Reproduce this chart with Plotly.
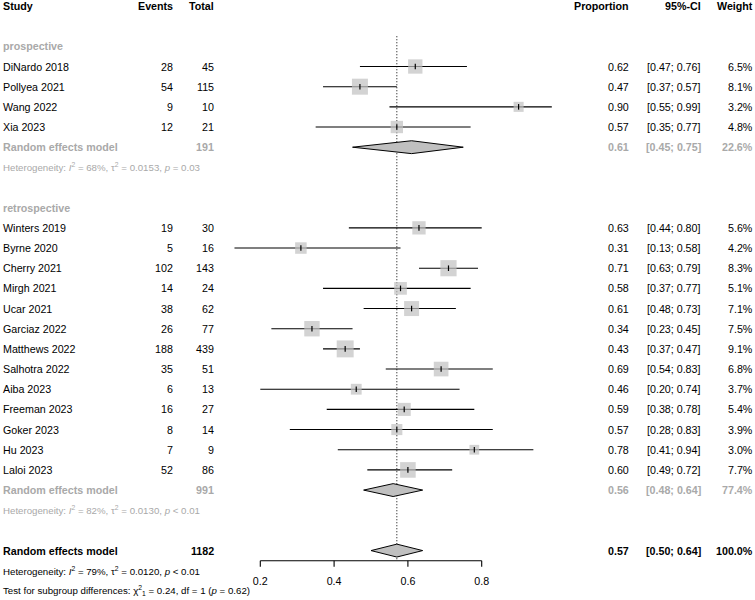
import plotly.graph_objects as go

W, H = 755, 600

# prospective studies
pro_study = ["DiNardo 2018", "Pollyea 2021", "Wang 2022", "Xia 2023"]
pro_events = [28, 54, 9, 12]
pro_total = [45, 115, 10, 21]
pro_prop = [0.62, 0.47, 0.90, 0.57]
pro_lo = [0.47, 0.37, 0.55, 0.35]
pro_hi = [0.76, 0.57, 0.99, 0.77]
pro_weight = [6.5, 8.1, 3.2, 4.8]

# retrospective studies
retro_study = ["Winters 2019", "Byrne 2020", "Cherry 2021", "Mirgh 2021", "Ucar 2021",
               "Garciaz 2022", "Matthews 2022", "Salhotra 2022", "Aiba 2023",
               "Freeman 2023", "Goker 2023", "Hu 2023", "Laloi 2023"]
retro_events = [19, 5, 102, 14, 38, 26, 188, 35, 6, 16, 8, 7, 52]
retro_total = [30, 16, 143, 24, 62, 77, 439, 51, 13, 27, 14, 9, 86]
retro_prop = [0.63, 0.31, 0.71, 0.58, 0.61, 0.34, 0.43, 0.69, 0.46, 0.59, 0.57, 0.78, 0.60]
retro_lo = [0.44, 0.13, 0.63, 0.37, 0.48, 0.23, 0.37, 0.54, 0.20, 0.38, 0.28, 0.41, 0.49]
retro_hi = [0.80, 0.58, 0.79, 0.77, 0.73, 0.45, 0.47, 0.83, 0.74, 0.78, 0.83, 0.94, 0.72]
retro_weight = [5.6, 4.2, 8.3, 5.1, 7.1, 7.5, 9.1, 6.8, 3.7, 5.4, 3.9, 3.0, 7.7]

# pooled estimates: prospective, retrospective, overall
pool_total = [191, 991, 1182]
pool_prop = [0.61, 0.56, 0.57]
pool_lo = [0.45, 0.48, 0.50]
pool_hi = [0.75, 0.64, 0.64]
pool_weight = [22.6, 77.4, 100.0]

het_pro = "Heterogeneity: <i>I</i><sup>2</sup> = 68%, τ<sup>2</sup> = 0.0153, <i>p</i> = 0.03"
het_retro = "Heterogeneity: <i>I</i><sup>2</sup> = 82%, τ<sup>2</sup> = 0.0130, <i>p</i> < 0.01"
het_all = "Heterogeneity: <i>I</i><sup>2</sup> = 79%, τ<sup>2</sup> = 0.0120, <i>p</i> < 0.01"
test_sub = "Test for subgroup differences: χ<sup>2</sup><sub>1</sub> = 0.24, df = 1 (<i>p</i> = 0.62)"

tick_vals = [0.2, 0.4, 0.6, 0.8]

GREY_TXT = "#a9a9a9"
BOX = "#c0c0c0"
FONT = "Liberation Sans, Arial, sans-serif"
FS = 10.7
FS_SMALL = 9.7

# row layout (row index, top = 0)
pro_rows = list(range(3, 3 + len(pro_study)))
retro_rows = list(range(11, 11 + len(retro_study)))
pool_rows = [7, 24, 27]

# map x: proportion -> pixel = 186.5 + 369 * p
X0, XS = 186.5, 369.0
xr = [(0 - X0) / XS, (W - X0) / XS]
# map y: row -> pixel = 6 + 20.17 * row
Y0, YS = 6.0, 20.17
yr = [(H - Y0) / YS, (0 - Y0) / YS]


def px(xpix):
    return xpix / W


fig = go.Figure()

# reference line at overall estimate
fig.add_trace(go.Scatter(x=[pool_prop[2], pool_prop[2]], y=[1.5, 27.5], mode="lines",
                         line=dict(color="black", width=1, dash="1px,2px"), hoverinfo="skip"))

rows = pro_rows + retro_rows
props = pro_prop + retro_prop
los = pro_lo + retro_lo
his = pro_hi + retro_hi
weights = pro_weight + retro_weight

# CI lines
cx, cy = [], []
for r, lo, hi in zip(rows, los, his):
    cx += [lo, hi, None]
    cy += [r, r, None]
fig.add_trace(go.Scatter(x=cx, y=cy, mode="lines", line=dict(color="black", width=1.1),
                         hoverinfo="skip"))

# weighted squares
fig.add_trace(go.Scatter(x=props, y=rows, mode="markers",
                         marker=dict(symbol="square", color=BOX,
                                     size=[5.62 * w ** 0.5 for w in weights],
                                     line=dict(width=0)),
                         hoverinfo="skip"))
# point ticks
fig.add_trace(go.Scatter(x=props, y=rows, mode="markers",
                         marker=dict(symbol="line-ns", size=4,
                                     line=dict(color="black", width=1.2)),
                         hoverinfo="skip"))

# diamonds
for r, est, lo, hi in zip(pool_rows, pool_prop, pool_lo, pool_hi):
    fig.add_trace(go.Scatter(x=[lo, est, hi, est, lo], y=[r, r - 0.32, r, r + 0.32, r],
                             mode="lines", fill="toself", fillcolor=BOX,
                             line=dict(color="black", width=1), hoverinfo="skip"))

# x axis
fig.add_trace(go.Scatter(x=[tick_vals[0], tick_vals[-1]], y=[27.5, 27.5], mode="lines",
                         line=dict(color="black", width=1.1), hoverinfo="skip"))
tx, ty = [], []
for t in tick_vals:
    tx += [t, t, None]
    ty += [27.5, 27.8, None]
fig.add_trace(go.Scatter(x=tx, y=ty, mode="lines", line=dict(color="black", width=1.1),
                         hoverinfo="skip"))
fig.add_trace(go.Scatter(x=tick_vals, y=[28.55] * len(tick_vals), mode="text",
                         text=[f"{t:.1f}" for t in tick_vals],
                         textfont=dict(family=FONT, size=FS, color="black"), hoverinfo="skip"))

ann = []


def txt(xpix, row, s, anchor="left", color="black", bold=False, size=FS):
    if bold:
        s = f"<b>{s}</b>"
    ann.append(dict(x=px(xpix), y=row, xref="paper", yref="y", text=s, showarrow=False,
                    xanchor=anchor, yanchor="middle", borderpad=0,
                    font=dict(family=FONT, size=size, color=color)))


COL_STUDY, COL_EV, COL_TOT, COL_PROP, COL_CI, COL_W = 1.5, 173.5, 215.5, 629.5, 701.5, 754.0

# header
txt(COL_STUDY, 0, "Study", bold=True)
txt(COL_EV, 0, "Events", "right", bold=True)
txt(COL_TOT, 0, "Total", "right", bold=True)
txt(COL_PROP, 0, "Proportion", "right", bold=True)
txt(COL_CI, 0, "95%-CI", "right", bold=True)
txt(COL_W, 0, "Weight", "right", bold=True)

txt(COL_STUDY, 2, "prospective", color=GREY_TXT, bold=True)
txt(COL_STUDY, 10, "retrospective", color=GREY_TXT, bold=True)

studies = pro_study + retro_study
events = pro_events + retro_events
totals = pro_total + retro_total
for r, s, e, n, p, lo, hi, w in zip(rows, studies, events, totals, props, los, his, weights):
    txt(COL_STUDY, r, s)
    txt(COL_EV, r, str(e), "right")
    txt(COL_TOT, r, str(n), "right")
    txt(COL_PROP, r, f"{p:.2f}", "right")
    txt(COL_CI, r, f"[{lo:.2f}; {hi:.2f}]", "right")
    txt(COL_W, r, f"{w:.1f}%", "right")

for i, r in enumerate(pool_rows):
    col = GREY_TXT if i < 2 else "black"
    txt(COL_STUDY, r, "Random effects model", color=col, bold=True)
    txt(COL_TOT, r, str(pool_total[i]), "right", color=col, bold=True)
    txt(COL_PROP, r, f"{pool_prop[i]:.2f}", "right", color=col, bold=True)
    txt(COL_CI, r, f"[{pool_lo[i]:.2f}; {pool_hi[i]:.2f}]", "right", color=col, bold=True)
    txt(COL_W, r, f"{pool_weight[i]:.1f}%", "right", color=col, bold=True)

txt(COL_STUDY, 8, het_pro, color=GREY_TXT, size=FS_SMALL)
txt(COL_STUDY, 25, het_retro, color=GREY_TXT, size=FS_SMALL)
txt(COL_STUDY, 28, het_all, size=FS_SMALL)
txt(COL_STUDY, 29, test_sub, size=FS_SMALL)

fig.update_layout(
    width=W, height=H, margin=dict(l=0, r=0, t=0, b=0),
    paper_bgcolor="white", plot_bgcolor="white", showlegend=False,
    xaxis=dict(range=xr, visible=False, fixedrange=True),
    yaxis=dict(range=yr, visible=False, fixedrange=True),
    annotations=ann,
)

# drop the page's default body margin so the figure sits at the window corner
fig.write_html("out.html", config={"displayModeBar": False},
               post_script="document.body.style.margin='0';document.body.style.overflow='hidden';")
